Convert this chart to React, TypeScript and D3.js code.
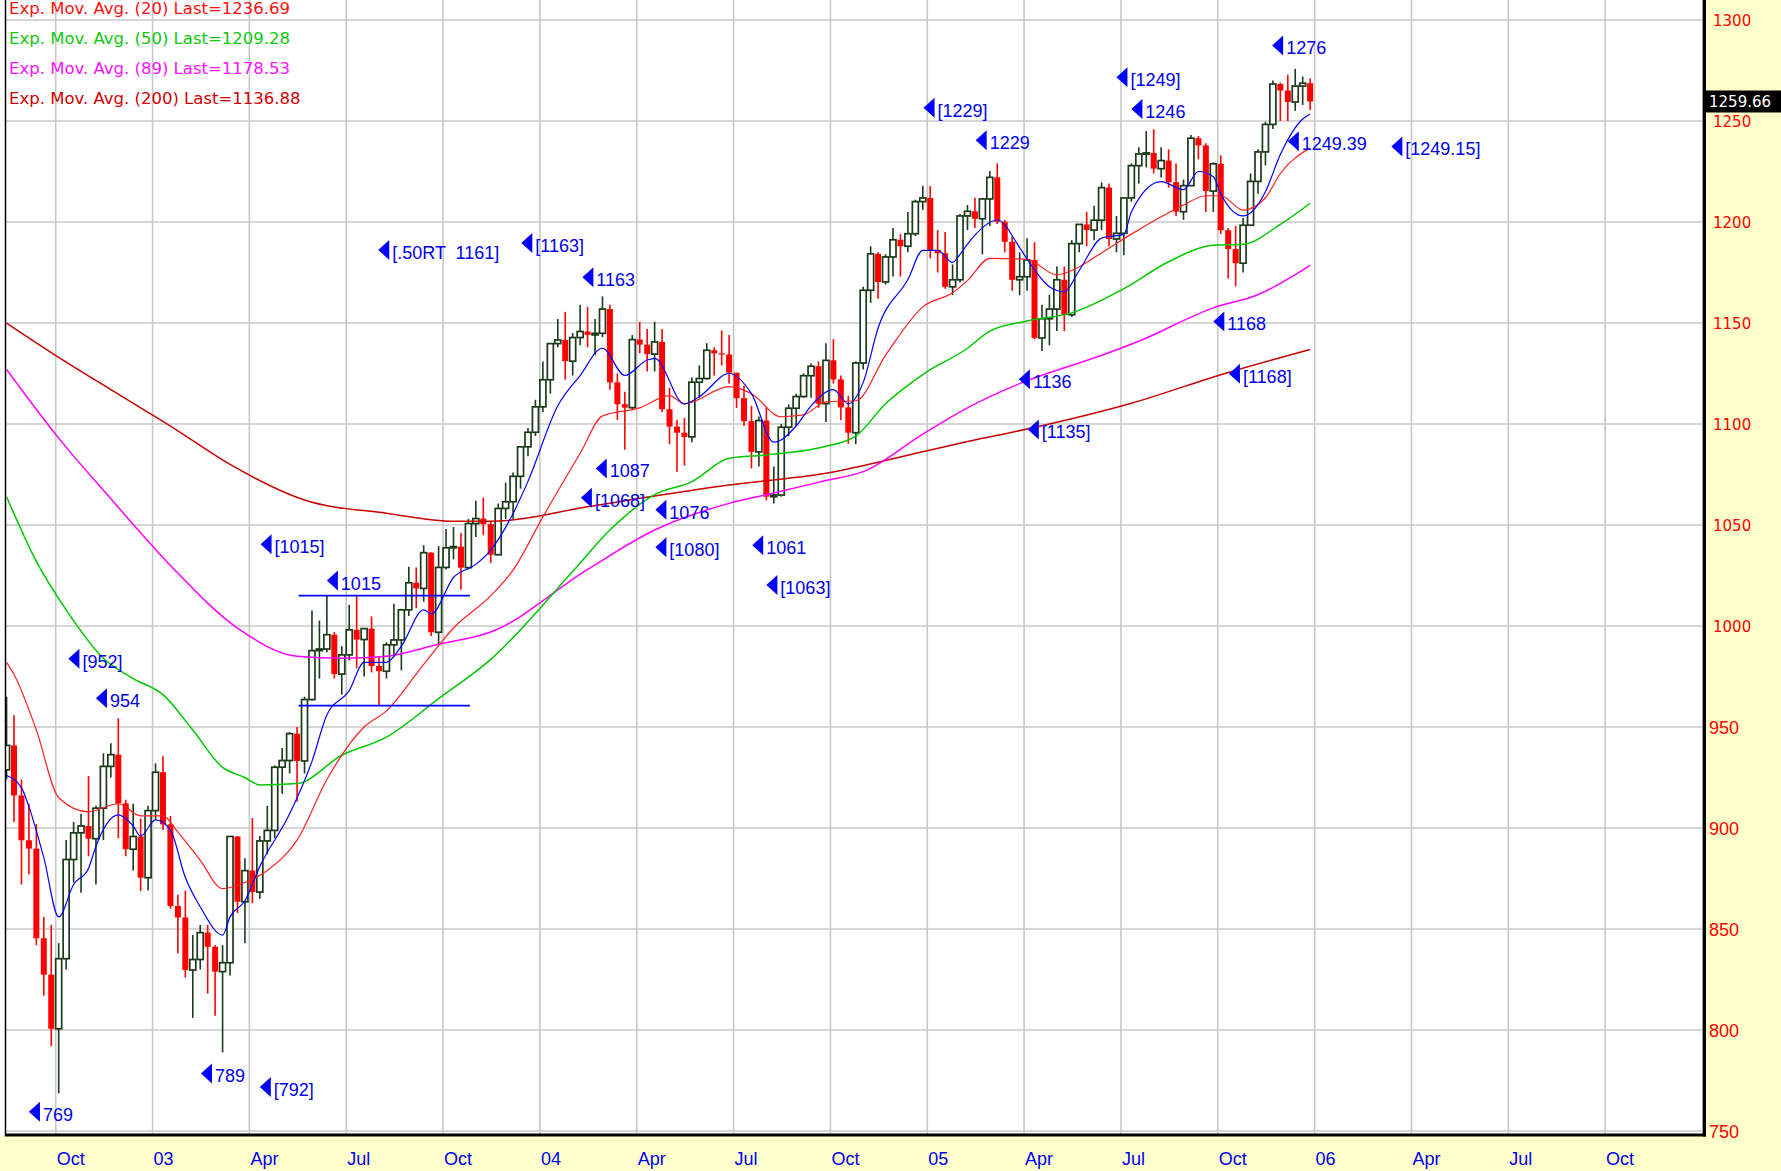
import React from "react";
import * as d3 from "d3";

// ---------- weekly candles: bar 0 = week of 19 Aug 2002 ----------
const opens = [
  928.8, 940.9, 916.1, 893.9, 889.8, 845.4, 827.4, 800.6, 835.3, 884.4,
  897.6, 901.0, 894.7, 909.8, 930.5, 936.3, 912.2, 889.5, 895.8, 875.4,
  908.6, 927.6, 901.8, 861.4, 855.7, 829.7, 834.9, 848.2, 841.2, 828.9,
  833.3, 895.8, 863.5, 878.9, 868.3, 893.6, 898.8, 930.1, 933.4, 946.7,
  933.2, 963.6, 987.8, 988.6, 995.7, 976.2, 985.7, 998.1, 993.3, 998.7,
  980.2, 977.6, 990.7, 993.1, 1008.0, 1021.4, 1018.6, 1036.3, 996.9, 1029.0,
  1038.7, 1039.3, 1028.9, 1050.7, 1053.2, 1050.4, 1035.3, 1058.2, 1061.5, 1074.1,
  1088.7, 1095.9, 1108.5, 1121.9, 1139.8, 1141.6, 1131.1, 1142.8, 1145.8, 1144.1,
  1144.9, 1156.9, 1120.6, 1109.8, 1108.1, 1141.8, 1139.3, 1134.6, 1140.6, 1107.3,
  1098.7, 1095.7, 1093.6, 1120.7, 1122.5, 1136.5, 1135.0, 1134.4, 1125.4, 1112.8,
  1101.4, 1086.2, 1101.7, 1064.0, 1064.8, 1098.4, 1107.8, 1113.6, 1123.9, 1128.6,
  1110.1, 1131.5, 1122.1, 1108.2, 1095.7, 1130.2, 1166.2, 1184.2, 1170.3, 1182.7,
  1191.2, 1188.0, 1194.2, 1210.1, 1211.9, 1186.2, 1184.5, 1167.9, 1171.4, 1203.0,
  1205.3, 1201.6, 1211.4, 1222.1, 1200.1, 1190.2, 1171.4, 1172.9, 1181.2, 1142.6,
  1152.1, 1156.9, 1171.4, 1154.1, 1189.3, 1198.8, 1196.0, 1200.9, 1217.0, 1191.6,
  1194.4, 1211.9, 1227.9, 1233.7, 1234.2, 1226.4, 1230.4, 1219.7, 1205.1, 1218.0,
  1241.5, 1237.9, 1215.3, 1228.8, 1195.9, 1186.6, 1179.6, 1198.4, 1220.1, 1234.7,
  1248.3, 1268.3, 1265.1, 1259.4, 1267.3, 1268.7,
];
const highs = [
  965.0, 955.8, 924.0, 912.0, 902.0, 856.0, 852.0, 843.0, 894.0, 903.0,
  907.0, 925.7, 911.0, 937.0, 942.0, 954.3, 914.0, 912.0, 904.7, 911.0,
  932.0, 935.5, 906.0, 867.0, 869.0, 847.0, 852.0, 852.0, 842.0, 842.0,
  895.9, 896.0, 885.0, 904.9, 896.0, 911.0, 931.0, 939.6, 947.5, 950.0,
  965.0, 1007.7, 1002.7, 1015.4, 997.0, 990.0, 1010.5, 1015.4, 999.0, 1004.7,
  985.0, 992.0, 1011.0, 1008.5, 1029.3, 1029.0, 1040.0, 1036.5, 1039.5, 1048.0,
  1049.0, 1046.0, 1053.0, 1062.0, 1063.6, 1052.0, 1060.6, 1071.0, 1076.0, 1089.0,
  1098.0, 1112.0, 1131.0, 1140.0, 1152.0, 1155.5, 1145.0, 1159.0, 1158.0, 1152.0,
  1163.2, 1159.0, 1125.0, 1116.0, 1144.0, 1150.6, 1147.0, 1150.6, 1147.0, 1118.0,
  1102.0, 1103.0, 1123.0, 1129.0, 1140.0, 1138.0, 1146.3, 1144.0, 1125.4, 1119.0,
  1109.0, 1103.7, 1108.6, 1079.0, 1100.0, 1109.7, 1115.0, 1125.0, 1130.0, 1131.0,
  1140.0, 1142.0, 1124.0, 1114.0, 1131.0, 1168.0, 1188.0, 1185.0, 1184.0, 1197.0,
  1194.0, 1205.0, 1211.0, 1217.9, 1217.8, 1196.0, 1195.0, 1179.0, 1204.0, 1208.4,
  1212.0, 1212.0, 1225.3, 1229.1, 1201.0, 1193.0, 1185.0, 1191.9, 1190.0, 1159.0,
  1164.0, 1178.0, 1178.0, 1191.0, 1199.0, 1205.0, 1208.0, 1219.6, 1219.1, 1203.0,
  1212.0, 1229.0, 1237.0, 1245.0, 1245.9, 1237.0, 1236.0, 1229.0, 1221.0, 1243.1,
  1242.6, 1239.0, 1229.5, 1233.0, 1197.0, 1198.0, 1202.0, 1224.0, 1236.0, 1249.6,
  1270.0, 1269.0, 1272.9, 1275.8, 1272.0, 1271.0,
];
const lows = [
  924.0, 903.0, 872.0, 877.0, 842.0, 817.0, 792.0, 768.6, 830.0, 873.0,
  868.0, 886.0, 872.0, 894.0, 925.0, 895.0, 886.0, 879.0, 868.8, 869.0,
  904.0, 899.0, 860.0, 838.0, 826.0, 806.0, 830.0, 818.0, 807.0, 788.9,
  827.0, 858.0, 843.0, 862.8, 865.0, 887.0, 895.0, 917.0, 927.0, 913.0,
  927.0, 963.0, 974.0, 987.0, 974.0, 966.0, 983.0, 979.0, 975.0, 977.0,
  960.8, 974.0, 985.0, 978.0, 1005.0, 1008.8, 1012.0, 995.0, 990.4, 1028.0,
  1033.0, 1018.0, 1028.0, 1044.0, 1045.0, 1031.2, 1035.0, 1053.0, 1053.0, 1068.0,
  1084.0, 1094.0, 1106.0, 1115.0, 1138.0, 1122.0, 1124.0, 1139.0, 1138.0, 1134.0,
  1143.0, 1117.0, 1102.0, 1087.2, 1107.0, 1135.0, 1126.0, 1126.0, 1106.0, 1090.0,
  1076.3, 1079.4, 1091.0, 1113.0, 1122.0, 1124.0, 1129.0, 1120.0, 1108.0, 1099.0,
  1078.0, 1079.0, 1062.2, 1060.7, 1064.0, 1094.0, 1099.0, 1113.0, 1113.0, 1108.0,
  1101.0, 1120.0, 1102.0, 1090.2, 1090.0, 1127.0, 1160.0, 1162.0, 1169.0, 1173.0,
  1173.0, 1185.0, 1193.0, 1206.0, 1182.0, 1175.0, 1167.0, 1163.8, 1170.0, 1196.0,
  1197.0, 1184.0, 1198.0, 1199.0, 1185.0, 1166.0, 1163.7, 1166.0, 1141.9, 1136.2,
  1139.0, 1146.0, 1146.0, 1153.0, 1185.0, 1188.0, 1191.0, 1196.0, 1188.0, 1185.0,
  1183.6, 1210.0, 1219.0, 1227.0, 1224.0, 1222.0, 1217.0, 1203.0, 1201.1, 1218.0,
  1231.0, 1205.0, 1205.0, 1194.0, 1172.0, 1168.2, 1175.0, 1198.0, 1214.0, 1228.0,
  1246.0, 1250.0, 1250.0, 1255.0, 1258.0, 1255.5,
];
const closes = [
  940.9, 916.1, 893.9, 889.8, 845.4, 827.4, 800.6, 835.3, 884.4, 897.6,
  901.0, 894.7, 909.8, 930.5, 936.3, 912.2, 889.5, 895.8, 875.4, 908.6,
  927.6, 901.8, 861.4, 855.7, 829.7, 834.9, 848.2, 841.2, 828.9, 833.3,
  895.8, 863.5, 878.9, 868.3, 893.6, 898.8, 930.1, 933.4, 946.7, 933.2,
  963.6, 987.8, 988.6, 995.7, 976.2, 985.7, 998.1, 993.3, 998.7, 980.2,
  977.6, 990.7, 993.1, 1008.0, 1021.4, 1018.6, 1036.3, 996.9, 1029.0, 1038.7,
  1039.3, 1028.9, 1050.7, 1053.2, 1050.4, 1035.3, 1058.2, 1061.5, 1074.1, 1088.7,
  1095.9, 1108.5, 1121.9, 1139.8, 1141.6, 1131.1, 1142.8, 1145.8, 1144.1, 1144.9,
  1156.9, 1120.6, 1109.8, 1108.1, 1141.8, 1139.3, 1134.6, 1140.6, 1107.3, 1098.7,
  1095.7, 1093.6, 1120.7, 1122.5, 1136.5, 1135.0, 1134.4, 1125.4, 1112.8, 1101.4,
  1086.2, 1101.7, 1064.0, 1064.8, 1098.4, 1107.8, 1113.6, 1123.9, 1128.6, 1110.1,
  1131.5, 1122.1, 1108.2, 1095.7, 1130.2, 1166.2, 1184.2, 1170.3, 1182.7, 1191.2,
  1188.0, 1194.2, 1210.1, 1211.9, 1186.2, 1184.5, 1167.9, 1171.4, 1203.0, 1205.3,
  1201.6, 1211.4, 1222.1, 1200.1, 1190.2, 1171.4, 1172.9, 1181.2, 1142.6, 1152.1,
  1156.9, 1171.4, 1154.1, 1189.3, 1198.8, 1196.0, 1200.9, 1217.0, 1191.6, 1194.4,
  1211.9, 1227.9, 1233.7, 1234.2, 1226.4, 1230.4, 1219.7, 1205.1, 1218.0, 1241.5,
  1237.9, 1215.3, 1228.8, 1195.9, 1186.6, 1179.6, 1198.4, 1220.1, 1234.7, 1248.3,
  1268.3, 1265.1, 1259.4, 1267.3, 1268.7, 1259.66,
];

// ---------- moving averages at these bars ----------
const shortBars = [0, 2, 3, 5, 7, 9, 11, 12, 15, 17, 18, 20, 22, 24, 26, 29, 30, 32, 34, 38, 41, 43, 46, 48, 51, 53, 56, 57, 60, 63, 65, 68, 70, 74, 77, 80, 83, 86, 87, 91, 93, 97, 100, 103, 106, 108, 111, 113, 115, 117, 121, 123, 125, 127, 128, 129, 130, 133, 136, 137, 140, 142, 144, 147, 150, 151, 155, 158, 160, 162, 163, 166, 167, 169, 171, 174, 175];
const shortVals = [926, 920, 910.6, 885.3, 856, 872, 880, 891, 906.5, 901, 896, 904, 899, 875.5, 861, 847, 856, 864, 881, 907, 933, 956, 968, 982, 982, 990, 1008, 1006, 1024, 1030.5, 1037.6, 1055.7, 1071.6, 1109, 1124, 1137.5, 1124, 1131.7, 1132.5, 1110, 1113.5, 1125, 1115, 1091, 1099, 1109, 1117, 1110, 1120.6, 1147.5, 1171.5, 1186, 1186, 1180, 1184, 1189, 1193.5, 1201, 1187.3, 1181.7, 1168, 1165.5, 1176, 1192, 1194, 1205, 1220, 1216, 1225, 1222.4, 1214, 1203, 1204.5, 1215, 1233.4, 1251, 1253.5];

const ema20Bars = [0, 1, 4, 7, 11, 15, 18, 21, 23, 26, 29, 32, 35, 39, 43, 48, 51, 56, 60, 65, 68, 72, 77, 80, 85, 89, 91, 97, 100, 104, 107, 110, 114, 118, 123, 127, 129, 132, 137, 141, 143, 147, 151, 156, 158, 161, 163, 166, 169, 171, 175];
const ema20Vals = [982, 976, 948.5, 915, 908, 912, 906, 906, 898, 884, 870, 873, 879, 894, 924, 950, 958, 981, 999, 1015, 1027.7, 1054, 1085.5, 1104, 1108, 1114, 1110, 1118.5, 1115, 1103.6, 1104.5, 1111, 1111.5, 1134, 1158, 1165, 1171, 1182, 1181.5, 1173.8, 1176, 1184.7, 1194, 1204.6, 1208.4, 1213, 1213, 1205.9, 1212, 1224, 1236.69];

const ema50Bars = [0, 4, 8, 13, 17, 21, 25, 29, 32, 34, 39, 45, 51, 58, 65, 76, 81, 87, 92, 97, 102, 110, 114, 118, 123, 129, 132, 137, 143, 150, 156, 162, 166, 171, 175];
const ema50Vals = [1064, 1032, 1008, 984, 974, 966, 948.5, 930, 925, 921.3, 922, 936, 945, 964, 983.5, 1027, 1047.5, 1065, 1071.5, 1083, 1084.7, 1089, 1094, 1110, 1124.5, 1137.5, 1146, 1151, 1155, 1167, 1180.3, 1188.5, 1189, 1198.8, 1209.28];

const ema89Bars = [0, 7, 14, 22, 31, 39, 45, 51, 58, 65, 78, 87, 97, 102, 110, 115, 123, 129, 136, 147, 152, 162, 168, 175];
const ema89Vals = [1127, 1093, 1063, 1030, 999, 985, 984, 985, 991, 997, 1028, 1047.5, 1060.7, 1065, 1072, 1076.4, 1095, 1108, 1120, 1134, 1141, 1157.5, 1164, 1178.53];

const ema200Bars = [0, 7, 14, 22, 30, 40, 51, 60, 65, 78, 85, 97, 110, 123, 129, 137, 151, 164, 175];
const ema200Vals = [1150, 1133, 1117, 1099, 1080, 1062.4, 1055.8, 1051.8, 1051.8, 1059, 1063.2, 1069.8, 1075.6, 1086.3, 1091.3, 1097.5, 1110.3, 1125.5, 1136.88];

const legendLabels = [
  "Exp. Mov. Avg. (20) Last=1236.69",
  "Exp. Mov. Avg. (50) Last=1209.28",
  "Exp. Mov. Avg. (89) Last=1178.53",
  "Exp. Mov. Avg. (200) Last=1136.88",
];

// ---------- annotations (arrow anchor: bar, price) ----------
const annBars = [49.9, 69.1, 77.3, 34.1, 43.0, 8.3, 12.0, 79.1, 77.1, 87.1, 87.1, 100.1, 102.0, 26.1, 34.0, 3.0, 123.1, 130.1, 149.0, 151.0, 169.9, 172.0, 185.9, 162.0, 135.9, 164.1, 137.1];
const annPrices = [1186.2, 1189.6, 1172.7, 1040.5, 1022.5, 983.8, 964.2, 1078.0, 1063.5, 1057.5, 1039.0, 1040.0, 1020.3, 778.5, 771.8, 759.5, 1256.5, 1240.5, 1271.7, 1255.9, 1287.4, 1240.0, 1237.4, 1150.8, 1122.1, 1124.9, 1097.3];
const annTexts = ["[.50RT  1161]", "[1163]", "1163", "[1015]", "1015", "[952]", "954", "1087", "[1068]", "1076", "[1080]", "1061", "[1063]", "789", "[792]", "769", "[1229]", "1229", "[1249]", "1246", "1276", "1249.39", "[1249.15]", "1168", "1136", "[1168]", "[1135]"];

const channelStart = 39.2;
const channelEnd = 62.2;
const channelPrices = [1015.0, 960.6];

const priceTicks = [750, 800, 850, 900, 950, 1000, 1050, 1100, 1150, 1200, 1250, 1300];
const dateTickBars = [7, 20, 33, 46, 59, 72, 85, 98, 111, 124, 137, 150, 163, 176, 189, 202, 215];
const dateTickLabels = ["Oct", "03", "Apr", "Jul", "Oct", "04", "Apr", "Jul", "Oct", "05", "Apr", "Jul", "Oct", "06", "Apr", "Jul", "Oct"];
const lastPrice = 1259.66;

const NARROW = "'Liberation Sans Narrow', 'Arial Narrow', 'Liberation Sans', Arial, sans-serif";
const WIDE = "'DejaVu Sans', Verdana, sans-serif";
const UP = "#1a3a1a";
const DOWN = "#ff0000";
const ANN = "#0000ee";

export default function App() {
  const plotL = 6, plotR = 1704, plotB = 1134;
  const x = d3.scaleLinear().domain([0, 228]).range([6.56, 6.56 + 228 * 7.449]);
  const y = d3.scaleLinear().domain([750, 1300]).range([1131, 20]);

  const path = (bars: number[], vals: number[]) =>
    d3.line<number>().x((_, i) => x(bars[i])).y((v) => y(v)).curve(d3.curveMonotoneX)(vals) || "";

  const lines = [
    { bars: ema200Bars, vals: ema200Vals, color: "#c80000", w: 1.5 },
    { bars: ema89Bars, vals: ema89Vals, color: "#ff00ff", w: 1.5 },
    { bars: ema50Bars, vals: ema50Vals, color: "#00c800", w: 1.5 },
    { bars: ema20Bars, vals: ema20Vals, color: "#ff2020", w: 1.2 },
    { bars: shortBars, vals: shortVals, color: "#0000ff", w: 1.2 },
  ];
  const legendColors = ["#ff1010", "#10c810", "#ff10ff", "#d00000"];

  return (
    <div>
      <style>{`body{margin:0;background:#fff;overflow:hidden}`}</style>
      <svg width={1781} height={1171} style={{ display: "block" }}>
        <defs>
          <clipPath id="plotclip">
            <rect x={plotL} y={0} width={plotR - plotL} height={plotB} />
          </clipPath>
        </defs>
        <rect x={0} y={0} width={1781} height={1171} fill="#ffffff" />
        <rect x={1705} y={0} width={76} height={1171} fill="#ffffcc" />
        <rect x={0} y={1136} width={1781} height={35} fill="#ffffcc" />

        {/* grid */}
        <g stroke="#c8c8c8" strokeWidth={1.6}>
          {priceTicks.map((p) => (
            <line key={"h" + p} x1={plotL} x2={plotR} y1={y(p)} y2={y(p)} />
          ))}
          {dateTickBars.map((b, i) => (
            <line key={"v" + i} x1={x(b - 0.4)} x2={x(b - 0.4)} y1={0} y2={plotB} />
          ))}
        </g>

        <g clipPath="url(#plotclip)">
          {/* candles */}
          {closes.map((c, i) => {
            const o = opens[i];
            const up = c >= o;
            const cx = x(i);
            const top = y(Math.max(o, c));
            const bot = y(Math.min(o, c));
            const col = up ? UP : DOWN;
            return (
              <g key={i}>
                <line x1={cx} x2={cx} y1={y(highs[i])} y2={y(lows[i])} stroke={col} strokeWidth={1.6} />
                <rect
                  x={cx - 3}
                  y={top}
                  width={6}
                  height={Math.max(1.2, bot - top)}
                  fill={up ? "#ffffff" : DOWN}
                  stroke={up ? col : "none"}
                  strokeWidth={1.7}
                />
              </g>
            );
          })}

          {/* moving averages */}
          {lines.map((l, i) => (
            <path key={i} d={path(l.bars, l.vals)} fill="none" stroke={l.color} strokeWidth={l.w} />
          ))}

          {/* channel lines */}
          {channelPrices.map((p, i) => (
            <line key={"c" + i} x1={x(channelStart)} x2={x(channelEnd)} y1={y(p)} y2={y(p)} stroke="#0000ff" strokeWidth={1.8} />
          ))}

          {/* annotations */}
          {annTexts.map((t, i) => {
            const ax = x(annBars[i]);
            const ay = y(annPrices[i]);
            return (
              <g key={"a" + i}>
                <path d={`M${ax},${ay} L${ax + 11},${ay - 10} L${ax + 11},${ay + 10} Z`} fill="#0000ff" />
                <text x={ax + 14} y={ay + 9} fill={ANN} fontFamily={NARROW} fontSize={18} style={{ whiteSpace: "pre" }}>
                  {t}
                </text>
              </g>
            );
          })}
        </g>

        {/* legend */}
        {legendLabels.map((t, i) => (
          <text key={"l" + i} x={9} y={14 + i * 30} fill={legendColors[i]} fontFamily={WIDE} fontSize={16.5}>
            {t}
          </text>
        ))}

        {/* frame */}
        <line x1={5.5} x2={5.5} y1={0} y2={plotB + 2} stroke="#000" strokeWidth={1.5} />
        <line x1={plotR - 1.5} x2={plotR - 1.5} y1={0} y2={plotB} stroke="#9a9a9a" strokeWidth={1} />
        <line x1={plotR + 0.5} x2={plotR + 0.5} y1={0} y2={plotB + 2.5} stroke="#000" strokeWidth={3} />
        <line x1={5} x2={plotR + 2} y1={plotB + 1} y2={plotB + 1} stroke="#000" strokeWidth={3} />

        {/* price axis */}
        {priceTicks.map((p) => {
          const s = String(p);
          const four = s.length === 4;
          return (
            <text
              key={"t" + p}
              x={four ? 1713 : 1709}
              y={y(p) + (four ? 5.5 : 6.5)}
              fill="#ff0000"
              fontFamily={four ? WIDE : NARROW}
              fontSize={four ? 15 : 18}
            >
              {s}
            </text>
          );
        })}
        <rect x={1706} y={y(lastPrice) - 11} width={75} height={22} fill="#000" />
        <text x={1709} y={y(lastPrice) + 5.5} fill="#fff" fontFamily={WIDE} fontSize={15}>
          {lastPrice.toFixed(2)}
        </text>

        {/* date axis */}
        {dateTickBars.map((b, i) => (
          <text key={"d" + i} x={x(b - 0.4) + 1} y={1165} fill="#0000ee" fontFamily={NARROW} fontSize={18}>
            {dateTickLabels[i]}
          </text>
        ))}
      </svg>
    </div>
  );
}
